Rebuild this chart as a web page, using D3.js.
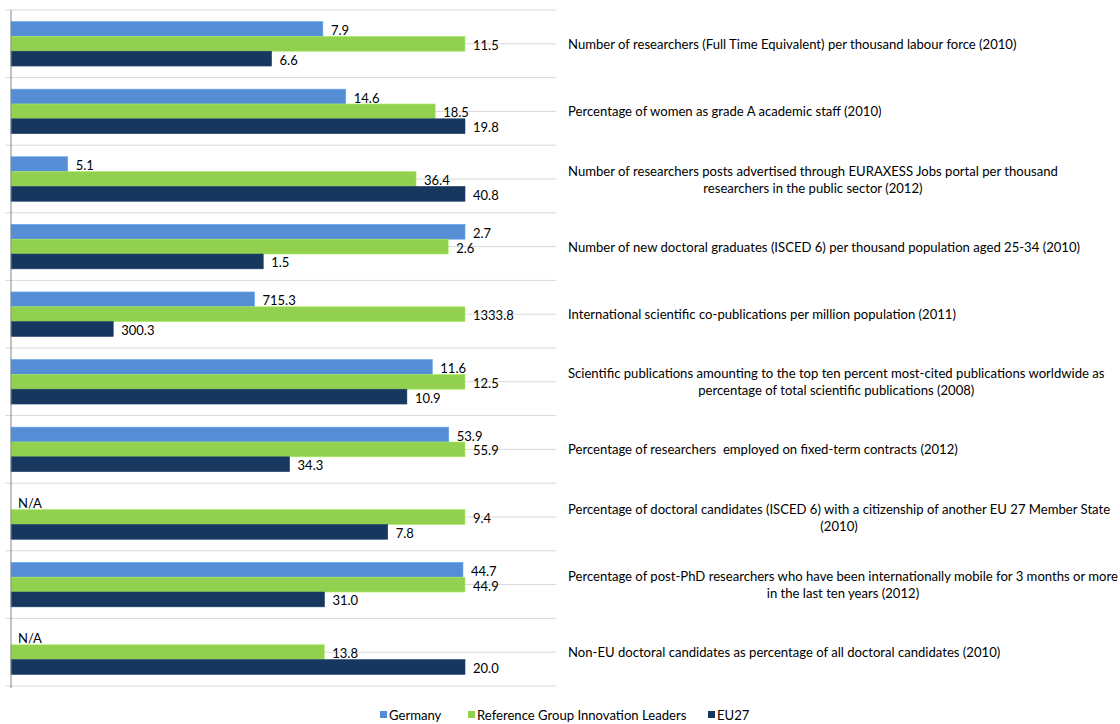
<!DOCTYPE html>
<html><head><meta charset="utf-8">
<script src="https://cdn.jsdelivr.net/npm/d3@7"></script>
<style>
html,body{margin:0;padding:0;background:#fff;}
svg text{font-family:Lato,"Open Sans",sans-serif;fill:#000;}
</style></head>
<body><svg id="c" width="1120" height="724"></svg>
<script>
const indicators = [
  ["Number of researchers (Full Time Equivalent) per thousand labour force (2010)"],
  ["Percentage of women as grade A academic staff (2010)"],
  ["Number of researchers posts advertised through EURAXESS Jobs portal per thousand","researchers in the public sector (2012)"],
  ["Number of new doctoral graduates (ISCED 6) per thousand population aged 25-34 (2010)"],
  ["International scientific co-publications per million population (2011)"],
  ["Scientific publications amounting to the top ten percent most-cited publications worldwide as","percentage of total scientific publications (2008)"],
  ["Percentage of researchers  employed on fixed-term contracts (2012)"],
  ["Percentage of doctoral candidates (ISCED 6) with a citizenship of another EU 27 Member State","(2010)"],
  ["Percentage of post-PhD researchers who have been internationally mobile for 3 months or more","in the last ten years (2012)"],
  ["Non-EU doctoral candidates as percentage of all doctoral candidates (2010)"]
];
const seriesNames = ["Germany","Reference Group Innovation Leaders","EU27"];
const germany  = [7.9, 14.6, 5.1, 2.7, 715.3, 11.6, 53.9, null, 44.7, null];
const refGroup = [11.5, 18.5, 36.4, 2.6, 1333.8, 12.5, 55.9, 9.4, 44.9, 13.8];
const eu27     = [6.6, 19.8, 40.8, 1.5, 300.3, 10.9, 34.3, 7.8, 31.0, 20.0];
const colors = ["#558ED5","#92D050","#17375E"];

const svg = d3.select("#c");
const seriesVals = [germany, refGroup, eu27];
const idx = d3.range(indicators.length);

const y0 = d3.scaleBand().domain(idx).range([10, 686]).paddingInner(0).paddingOuter(0);
const y1 = d3.scaleBand().domain([0,1,2]).range([0, y0.bandwidth()]).paddingInner(0).paddingOuter(0.78);
const x = d3.scaleLinear().domain([0, 1]).range([11, 465]);

// gridlines: boundaries and centres
const g = svg.append("g");
const bounds = idx.map(i => y0(i)).concat([y0(idx.length-1)+y0.bandwidth()]);
g.selectAll("line.b").data(bounds).join("line")
  .attr("x1",5).attr("x2",556).attr("y1",d=>d).attr("y2",d=>d)
  .attr("stroke","#d9d9d9").attr("stroke-width",1);
g.selectAll("line.m").data(idx).join("line")
  .attr("x1",11).attr("x2",556)
  .attr("y1",i=>y0(i)+y0.bandwidth()/2).attr("y2",i=>y0(i)+y0.bandwidth()/2)
  .attr("stroke","#d9d9d9").attr("stroke-width",1);

// bars
const rows = [];
idx.forEach(i => {
  const mx = d3.max(seriesVals, s => s[i]);
  seriesVals.forEach((s, k) => rows.push({i, k, v: s[i], n: s[i]==null ? null : s[i]/mx}));
});
svg.append("g").selectAll("rect").data(rows.filter(r=>r.v!=null)).join("rect")
  .attr("x", x(0))
  .attr("y", r => y0(r.i) + y1(r.k))
  .attr("width", r => x(r.n) - x(0))
  .attr("height", y1.bandwidth())
  .attr("fill", r => colors[r.k])
  .attr("stroke", r => d3.color(colors[r.k]).brighter(0.4))
  .attr("stroke-width", 0.6);

// value labels
svg.append("g").selectAll("text").data(rows).join("text")
  .attr("x", r => r.v==null ? 18 : x(r.n) + 8)
  .attr("y", r => y0(r.i) + y1(r.k) + y1.bandwidth()/2 + 1)
  .attr("dominant-baseline","central")
  .attr("font-size", 13)
  .text(r => r.v==null ? "N/A" : r.v.toFixed(1));

// axis line
svg.append("line").attr("x1",11).attr("x2",11).attr("y1",10).attr("y2",688)
  .attr("stroke","#868686").attr("stroke-width",1);

// right labels
const lab = svg.append("g");
idx.forEach(i => {
  const lines = indicators[i];
  const cy = y0(i) + y0.bandwidth()/2;
  const lh = 17;
  const t = lab.append("g");
  const texts = lines.map((ln, j) => t.append("text")
      .attr("xml:space","preserve")
      .style("white-space","pre")
      .attr("font-size", 13.1)
      .attr("y", cy + (j - (lines.length-1)/2) * lh)
      .attr("dominant-baseline","central")
      .attr("text-anchor","middle")
      .text(ln));
  const w = d3.max(texts, tx => tx.node().getComputedTextLength());
  texts.forEach(tx => tx.attr("x", 568 + w/2));
});

// legend
const leg = svg.append("g");
const legX = [380, 468, 708];
seriesNames.forEach((n, k) => {
  leg.append("rect").attr("x", legX[k]).attr("y", 711).attr("width", 7).attr("height", 7).attr("fill", colors[k]);
  leg.append("text").attr("x", legX[k] + 9).attr("y", 715).attr("dominant-baseline","central")
    .attr("font-size", 13.1).text(n);
});
</script></body></html>
